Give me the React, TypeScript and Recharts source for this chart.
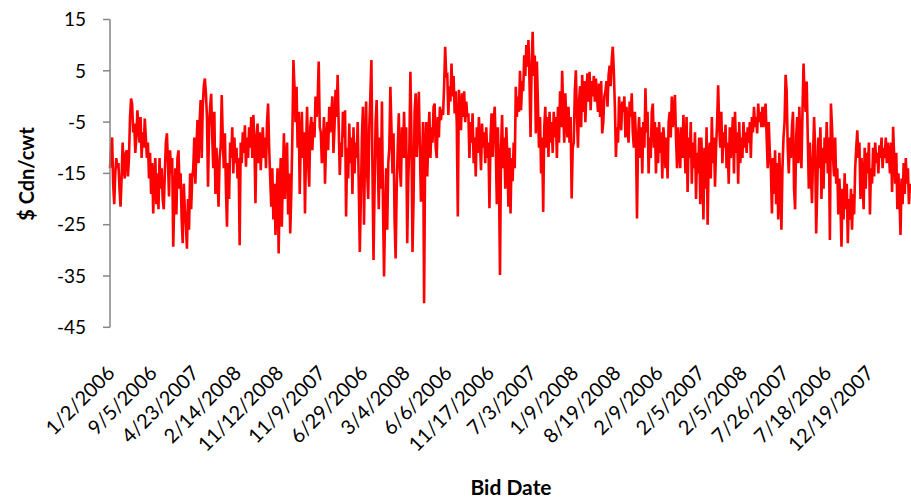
import React from 'react';
import { LineChart, Line, XAxis, YAxis } from 'recharts';

// tick labels shown on the category axis (one every 40 bids)
const tickDates = [
  '1/2/2006', '9/5/2006', '4/23/2007', '2/14/2008', '11/12/2008', '11/9/2007',
  '6/29/2006', '3/4/2008', '6/6/2006', '11/17/2006', '7/3/2007', '1/9/2008',
  '8/19/2008', '2/9/2006', '2/5/2007', '2/5/2008', '7/26/2007', '7/18/2006',
  '12/19/2007',
];

// $ Cdn/cwt (20 bids per row)
const bidValues = [
  -14, -10, -8, -17, -21, -15, -12, -14, -13, -18, -21.5, -16, -9, -14, -16, -11, -10.5, -15.6, -12, -4,
  -0.4, -1.5, -7, -5.3, -11, -8, -2.7, -6, -9, -4, -12, -7, -10, -4.3, -8, -12, -9, -16, -11, -19,
  -13, -22.8, -16, -12, -21, -15, -22, -12, -18, -14, -20, -22, -15, -9, -7.2, -13, -19.5, -10.5, -15, -12,
  -29.3, -20, -14, -23, -12, -10.5, -18, -15, -24, -28.6, -17, -22, -25, -29.7, -20, -26, -15, -22, -16, -14,
  -8, -17, -10, -4.6, -13, -5, -0.7, -12, -2, 2, 3.5, 0.6, -4, -17.6, -6, -2, 0.5, -8, -14, -3,
  -19, -10, -16, -21.5, -12, -9.8, 0.3, -8, -14, -7.2, -18, -25.4, -13, -20, -9, -12, -6, -15, -8, -13,
  -10, -16, -12, -29, -9, -13, -7, -11, -5.6, -13.7, -8, -12, -6, -10, -4, -12, -3.6, -9, -20.8, -8,
  -5.3, -13, -7, -14.4, -9, -6, -12, -8, -14, -5, -1.4, -10, -16, -21.5, -14, -24, -17, -27, -20, -14,
  -30.6, -18, -12, -25.4, -16, -7.2, -20, -12, -9, -23, -15, -26.7, -19, -8, 7.1, 2, -5, 1.9, -10, -3,
  -19, -8, -3, -12, -7, -22.8, -10, -2, -13, -17.6, -6, -4, -10.5, -5, -8, 0, -4, -1, 6.8, -6,
  -7, -13, -10, -4, -17, -9, -5, -10.5, -2, -7, -3, 0, -11, -6, 1.3, -4, 4.2, -6, -15.3, -9,
  -11.8, -3, -8, -2.7, -23.4, -10, -16, -5.3, -13, -8, -19, -6, -15, -9, -12, -5, -17, -30.3, -20, -8,
  -2, -25, -10, -1, -15, -20, -6, 0, 7.1, -14, -31.9, -18, -5, -0.7, -12, -22, -8, -18, -1, -21,
  -35.1, -22, -14, -26, -13, -10, 1.9, -6, -15, -7.2, -24, -31.6, -18, -10, -3.3, -14, -17.6, -6, -12, -3,
  -12, -6, -28.6, -16, -10, 4.8, -8, -30.3, -20, -3, 0.6, -11.8, -6, 0.9, -10, -20.5, -14, -5, -40.3, -10,
  -5, -15.6, -8, -3, -12, -6, -9, -2, -1.4, -10, -12, -4, -8, -2, -4.6, -2.5, -3.6, 2, 9.7, 4,
  4.2, -3.6, 2, -1, 6.4, 0, 4, -3.3, 1, -5.3, -23.4, 1.3, -2, -6.6, 0.6, -4, 1, -5, -1, -4,
  -3.3, -12, -5, -9, -3.3, -13, -8, -15.6, -6, -11, -4, -9, -14.4, -5.3, -10, -7, -13, -6, -12, -9,
  -21.8, -8, -3.3, -11.8, -5, -2, -10, -21, -6, -15, -34.8, -10, -3.6, -14, -8, -18, -6, -12, -21.5, -10,
  -22.8, -12, -16.5, -9, -14, 1.9, -4, 0, -3, 5, -2.7, 3, 1, 8, 4, 10, 5.8, 11, 3, -7.9,
  6, 12.6, 4, 8, -7.2, 6.8, -1.4, -10, -4, -15, -8, -22.5, -6, -2, -10, -4, -11.8, -3, -9, -5,
  -11, -3, -8, -4, -12, -2, -9, 1, -6, 5, -3, -9, 0.6, -5, -8, -2, -9, -4, -19.9, -10,
  -9, 1, 5.1, -4, -10, -1, 2, -6, 4.2, -3, 3, -5, 1, 4.5, -1, 4.8, -2.7, 3, 0, 4,
  -1, 3.5, 0, -3, 2.5, -4, 3, -7.2, -5, 0, 1, 3, -2, 4, 6, 2, 7, 9.7, 5, -2,
  -11.8, -6, -9, 0, -4, -6.6, -1, -3, 0, -8, -2, -6, -9, -1, -4, 0.6, -7, -10, -3, -8,
  -23.8, -8, -4, -12, -6, -15, -5, -10, 1.6, -7, -3, -15, -8, -12, -3, -1.4, -10, -5, -15, -6,
  -13, -5, -11, -7, -16, -6, -9, -14, -8, -16, -5, -3, -8, 0, -6, -3, 0.3, -8, -14, -6,
  -10, -14, -6, -12, -3.6, -9, -15, -4, -18.6, -8, -12, -5, -17, -9, -14, -7, -20, -11, -15, -8,
  -21, -8, -14, -24, -10, -18, -6, -25, -12, -9, -16, -4, -13, -8, -17.6, -10, -5, 2.2, -6, -10,
  -3, -13, -7, -10, -5.5, -14, -9, -17, -6, -12, -8, -4, -15, -3, -11, -7, -17, -5, -13, -8,
  -12, -5, -10, -7, -11, -6, -9, -5, -12, -4, -7, -2, -6, -4, -7.2, -1.4, -5, -3, -6, -2,
  -6, -3, -1.4, -8, -14, -5, -11, -14, -22.8, -12, -19, -10.5, -21, -13, -24, -11, -17, -26, -14, -8,
  -5, 4.2, 1, -10, -15, -8, -12, -6, -3, -18, -22, -8, -4, -13, -2, -10, -14, -3, 6.4, 0,
  -3, 2.9, -8, -18, -9, -15, -20.8, -12, -4, -10, -26.7, -18, -8, -14, -6, -20, -10, -18, -8, -13,
  -5, -15, -8, -28, -1.4, -6, -12, -15.6, -8, -17, -14, -23, -16, -21, -29.3, -18, -24, -15, -22, -17,
  -28.6, -20, -24, -18, -26, -19, -23, -14, -10, -6.6, -12, -9, -20, -12, -16, -22, -10, -18, -11, -15,
  -9, -23, -14, -17, -10, -15.6, -9, -13, -11, -15, -9.5, -12, -8, -14, -10, -12, -8, -13, -9, -11,
  -15, -9, -18.6, -5.9, -12, -17, -11, -22, -15, -20, -27, -16, -21, -13, -19, -12, -17, -14, -21, -17,
];

const yTicks = [-45, -35, -25, -15, -5, 5, 15];

const LABEL_EVERY = 40;
const FONT = 'Lato, "Open Sans", sans-serif';

const data = bidValues.map((v, i) => ({
  date: i % LABEL_EVERY === 0 ? tickDates[i / LABEL_EVERY] : '',
  value: v,
}));

// rotated date label, anchored at its end like Excel does
const DateTick = ({ x, y, payload }: any) => (
  <g transform={`translate(${x + 6},${y + 47}) rotate(-45)`}>
    <text x={0} y={0} textAnchor="end" fontSize={20} fontFamily={FONT} fill="#000">
      {payload.value}
    </text>
  </g>
);

export default function App() {
  return (
    <div style={{ position: 'absolute', left: 0, top: 0, width: 911, height: 499, background: '#fff' }}>
      <LineChart
        width={911}
        height={499}
        data={data}
        margin={{ top: 19.5, right: 1, left: 0, bottom: 21.7 }}
      >
        <XAxis
          dataKey="date"
          interval={LABEL_EVERY - 1}
          axisLine={false}
          tickLine={false}
          tickSize={0}
          tickMargin={0}
          height={150}
          tick={<DateTick />}
        />
        <YAxis
          domain={[-45, 15]}
          ticks={yTicks}
          width={110}
          axisLine={{ stroke: '#868686', strokeWidth: 1.5 }}
          tickLine={{ stroke: '#868686', strokeWidth: 1.5 }}
          tickSize={7}
          tickMargin={17}
          tick={{ fontSize: 19, fontFamily: FONT, fill: '#000' }}
        />
        <Line
          type="linear"
          dataKey="value"
          stroke="#ff0000"
          strokeWidth={2.6}
          dot={false}
          isAnimationActive={false}
        />
      </LineChart>
      <div
        style={{
          position: 'absolute', left: 26, top: 174,
          transform: 'translate(-50%, -50%) rotate(-90deg)',
          fontFamily: FONT, fontWeight: 700, fontSize: 20, lineHeight: 1, whiteSpace: 'nowrap',
        }}
      >
        $ Cdn/cwt
      </div>
      <div
        style={{
          position: 'absolute', left: 511, top: 486,
          transform: 'translate(-50%, -50%)',
          fontFamily: FONT, fontWeight: 700, fontSize: 21, lineHeight: 1, whiteSpace: 'nowrap',
        }}
      >
        Bid Date
      </div>
    </div>
  );
}
